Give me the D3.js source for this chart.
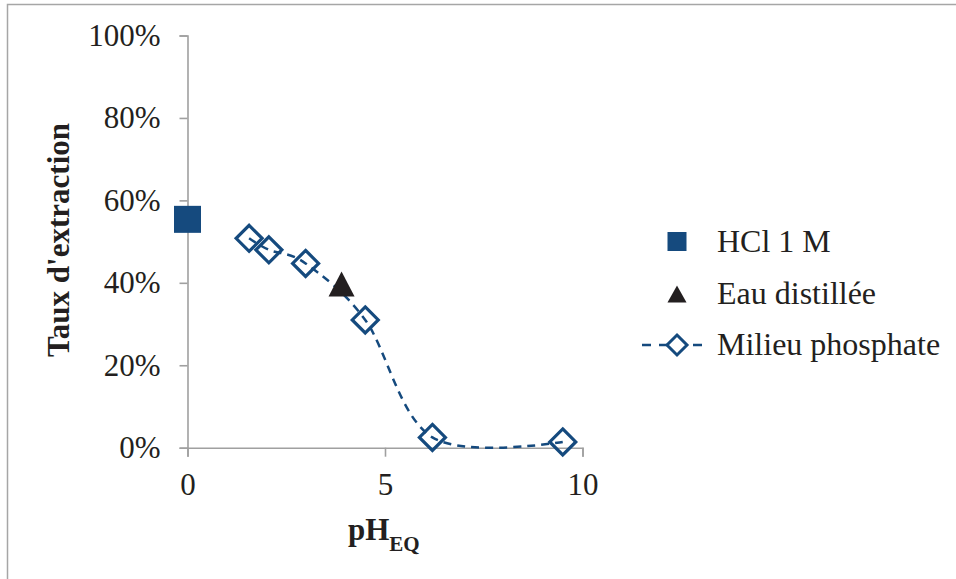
<!DOCTYPE html>
<html><head><meta charset="utf-8">
<script src="https://cdn.jsdelivr.net/npm/d3@7"></script>
<style>
html,body{margin:0;padding:0;background:#fff;}
svg{display:block;}
svg text{font-family:"Liberation Serif","Times New Roman",Tinos,serif !important;}
</style></head>
<body>
<svg id="chart" width="956" height="579"></svg>
<script>
// Data
const hclX = [0];
const hclY = [0.554];
const eauX = [3.9];
const eauY = [0.397];
const phosX = [1.56, 2.06, 2.99, 4.50, 6.20, 9.50];
const phosY = [0.508, 0.480, 0.447, 0.310, 0.025, 0.014];
const xTicks = [0, 5, 10];
const yTicks = [0, 0.2, 0.4, 0.6, 0.8, 1.0];
const seriesNames = ["HCl 1 M", "Eau distillée", "Milieu phosphate"];

const blue = "#154a7e", dark = "#231f20", axisCol = "#a0a0a0";
const FONT = "Liberation Serif";
const svg = d3.select("#chart");

// outer border
svg.append("rect").attr("x", 7.5).attr("y", 4.5).attr("width", 1000).attr("height", 1000)
  .attr("fill", "none").attr("stroke", "#a6a6a6").attr("stroke-width", 1.5);

const x = d3.scaleLinear().domain([0, 10]).range([187.5, 582.5]);
const y = d3.scaleLinear().domain([0, 1]).range([447.7, 35.5]);

// Y axis
const yAx = svg.append("g").attr("transform", `translate(${x(0)},0)`)
  .call(d3.axisLeft(y).tickValues(yTicks).tickFormat(d3.format(".0%")).tickSize(8).tickPadding(19));
// X axis
const xAx = svg.append("g").attr("transform", `translate(0,${y(0)})`)
  .call(d3.axisBottom(x).tickValues(xTicks).tickFormat(d3.format("d")).tickSize(9).tickPadding(16));
[yAx, xAx].forEach(g => {
  g.attr("font-family", FONT).attr("font-size", 31);
  g.select(".domain").attr("stroke", axisCol).attr("stroke-width", 1.6);
  g.selectAll(".tick line").attr("stroke", axisCol).attr("stroke-width", 1.6);
  g.selectAll("text").attr("fill", dark).attr("font-family", FONT).style("font-size", "31px");
});

// Axis titles
svg.append("text").attr("transform", `translate(69,${240}) rotate(-90)`)
  .attr("text-anchor", "middle").attr("fill", dark).attr("font-family", FONT)
  .style("font-size", "31px").style("font-weight", "bold").text("Taux d'extraction");
const xt = svg.append("text").attr("x", 348).attr("y", 540).attr("fill", dark).attr("font-family", FONT)
  .style("font-size", "31px").style("font-weight", "bold");
xt.append("tspan").text("pH");
xt.append("tspan").attr("dy", 11).style("font-size", "21px").text("EQ");

// Phosphate line
const phos = phosX.map((v, i) => [v, phosY[i]]);
svg.append("path").datum(phos)
  .attr("d", d3.line().x(d => x(d[0])).y(d => y(d[1])).curve(d3.curveCardinal.tension(0)))
  .attr("fill", "none").attr("stroke", blue).attr("stroke-width", 2.5).attr("stroke-dasharray", "8,6");

// Diamonds
const dsz = 13;
const diamond = (cx, cy, r) => `M${cx},${cy - r}L${cx + r},${cy}L${cx},${cy + r}L${cx - r},${cy}Z`;
svg.selectAll(".dia").data(phos).enter().append("path")
  .attr("d", d => diamond(x(d[0]), y(d[1]), dsz))
  .attr("fill", "none").attr("stroke", blue).attr("stroke-width", 3.2);

// HCl square
const sq = 27;
svg.selectAll(".sq").data(hclX.map((v, i) => [v, hclY[i]])).enter().append("rect")
  .attr("x", d => x(d[0]) - sq / 2).attr("y", d => y(d[1]) - sq / 2)
  .attr("width", sq).attr("height", sq).attr("fill", blue);

// Triangle
const tri = (cx, cy, w, h) => `M${cx},${cy - h / 2}L${cx + w / 2},${cy + h / 2}L${cx - w / 2},${cy + h / 2}Z`;
svg.selectAll(".tri").data(eauX.map((v, i) => [v, eauY[i]])).enter().append("path")
  .attr("d", d => tri(x(d[0]), y(d[1]), 26, 25)).attr("fill", dark);

// Legend
const lg = svg.append("g");
const lx = 677, ly = [241.5, 294, 345];
lg.append("rect").attr("x", lx - 9.5).attr("y", ly[0] - 9.5).attr("width", 19).attr("height", 19).attr("fill", blue);
lg.append("path").attr("d", tri(lx, ly[1], 19, 17)).attr("fill", dark);
lg.append("line").attr("x1", 642).attr("x2", 704).attr("y1", ly[2]).attr("y2", ly[2])
  .attr("stroke", blue).attr("stroke-width", 2.5).attr("stroke-dasharray", "9,8");
lg.append("path").attr("d", diamond(lx, ly[2], 10)).attr("fill", "#fff").attr("stroke", blue).attr("stroke-width", 3);
seriesNames.forEach((n, i) => {
  lg.append("text").attr("x", 717).attr("y", ly[i] + 10).attr("fill", dark).attr("font-family", FONT)
    .style("font-size", "32px").text(n);
});
</script>
</body></html>
